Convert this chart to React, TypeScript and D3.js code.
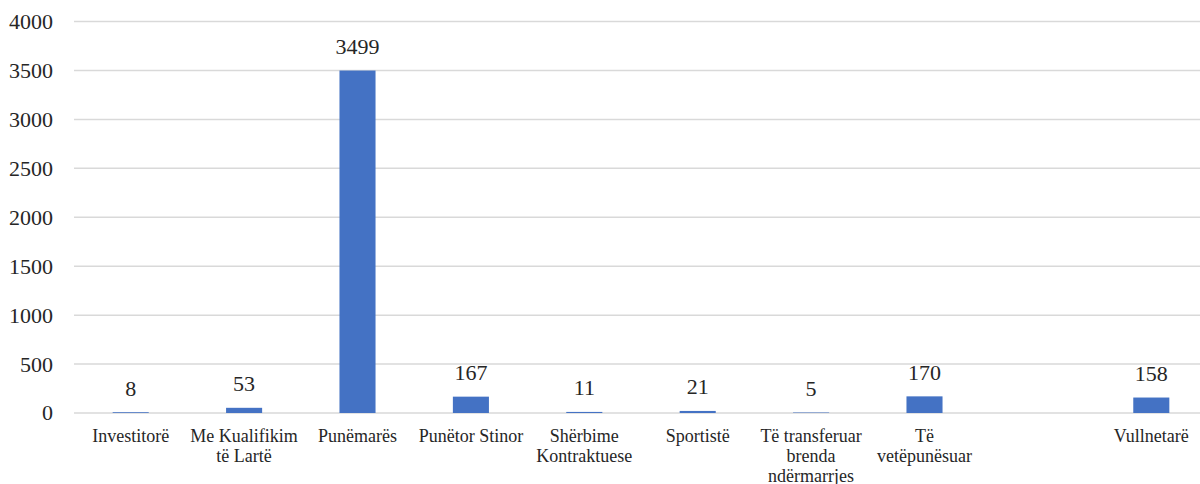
import React from "react";
import * as d3 from "d3";

const categories: string[] = [
  "Investitorë",
  "Me Kualifikim të Lartë",
  "Punëmarës",
  "Punëtor Stinor",
  "Shërbime Kontraktuese",
  "Sportistë",
  "Të transferuar brenda ndërmarrjes",
  "Të vetëpunësuar",
  "",
  "Vullnetarë",
];
const values: (number | null)[] = [8, 53, 3499, 167, 11, 21, 5, 170, null, 158];
const yTicks: number[] = [0, 500, 1000, 1500, 2000, 2500, 3000, 3500, 4000];

const W = 1200;
const H = 484;
const FONT = "Liberation Serif, serif";
const CAT_SIZE = 18;
const NUM_SIZE = 22;

let ctx: CanvasRenderingContext2D | null = null;
function measure(text: string): number {
  if (!ctx) {
    const c = document.createElement("canvas");
    ctx = c.getContext("2d");
  }
  if (!ctx) return text.length * CAT_SIZE * 0.5;
  ctx.font = `${CAT_SIZE}px ${FONT}`;
  return ctx.measureText(text).width;
}

function wrap(text: string, maxW: number): string[] {
  if (!text) return [];
  const words = text.split(" ");
  const lines: string[] = [];
  let cur = "";
  for (const w of words) {
    const t = cur ? cur + " " + w : w;
    if (cur && measure(t) > maxW) {
      lines.push(cur);
      cur = w;
    } else {
      cur = t;
    }
  }
  if (cur) lines.push(cur);
  return lines;
}

export default function App() {
  const x = d3.scaleBand<string>()
    .domain(categories.map((c, i) => String(i)))
    .range([74, 1208])
    .paddingInner(0)
    .paddingOuter(0);
  const y = d3.scaleLinear().domain([0, 4000]).range([413, 21.5]);
  const step = x.step();
  const barW = step * 0.318;
  const txt = { fontFamily: FONT } as React.CSSProperties;

  return (
    <div style={{ position: "absolute", left: 0, top: 0, width: W, height: H }}>
      <svg width={W} height={H} style={{ display: "block", fontFamily: FONT }}>
        <rect x={0} y={0} width={W} height={H} fill="#ffffff" />
        {yTicks.map((t) => (
          <g key={t}>
            <line x1={74} x2={1208} y1={y(t)} y2={y(t)} stroke="#d9d9d9" strokeWidth={1.5} />
            <text x={53} y={y(t)} dy="0.34em" textAnchor="end" fontSize={NUM_SIZE} fill="#262626" style={txt}>
              {t}
            </text>
          </g>
        ))}
        {categories.map((c, i) => {
          const v = values[i];
          const cx = (x(String(i)) as number) + step / 2;
          const lines = wrap(c, 110);
          return (
            <g key={i}>
              {v !== null && (
                <>
                  <rect x={cx - barW / 2} y={y(v)} width={barW} height={y(0) - y(v)} fill="#4472C4" />
                  <text x={cx} y={y(v) - 16.5} textAnchor="middle" fontSize={NUM_SIZE} fill="#262626" style={txt}>
                    {v}
                  </text>
                </>
              )}
              {lines.map((ln, j) => (
                <text key={j} x={cx} y={442 + j * 20} textAnchor="middle" fontSize={CAT_SIZE} fill="#262626" style={txt}>
                  {ln}
                </text>
              ))}
            </g>
          );
        })}
      </svg>
    </div>
  );
}
